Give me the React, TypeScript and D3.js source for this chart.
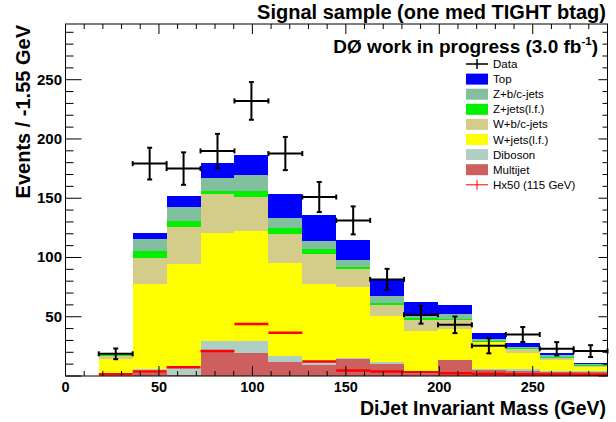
import React from 'react';
import * as d3 from 'd3';

// ---- data ----
const binEdges = [17.8, 35.95, 54.1, 72.25, 90.4, 108.55, 126.7, 144.85, 163.0, 181.15, 199.3, 217.45, 235.6, 253.75, 271.9, 290];
const multijet = [0.3, 2.5, 0.8, 21, 19.3, 11.7, 8.9, 14.5, 10.3, 2, 13.1, 5.2, 4.6, 3.5, 3];
const diboson = [0.7, 3.5, 5.7, 8.2, 10.1, 4.8, 2.8, 0.8, 1.4, 2, 0.7, 0.8, 0.9, 1.0, 0.8];
const wjetsLF = [13, 71.9, 87.7, 91.7, 93.2, 78.8, 66.2, 59.7, 38.6, 33.6, 26.1, 22.3, 13.8, 9.4, 3.6];
const wbc = [3, 21.9, 31.5, 32.4, 28.4, 24.8, 25.3, 15.5, 9.2, 9.8, 7, 0.5, 3.2, 1.6, 1.1];
const zjetsLF = [0.5, 5.6, 5.1, 2.5, 4.8, 4.8, 3.6, 1.4, 2, 1.4, 1.4, 0.6, 0.8, 0.7, 0.7];
const zbc = [1, 10.5, 11.8, 11.6, 13.5, 8.7, 7.1, 6.2, 5.9, 1.7, 4.2, 1.4, 1.1, 1.1, 0.8];
const top = [1, 4.7, 9, 12.6, 17.2, 20.3, 21.7, 16.9, 14.6, 11.9, 7, 5.7, 3.6, 2.3, 1.1];
const dataCounts = [18.7, 179.2, 175, 189.9, 232.1, 187.7, 151, 131.3, 81.5, 51.7, 43.2, 25.5, 35, 23, 21];
const dataErrors = [4.5, 13.4, 13.7, 14.4, 15.9, 14, 12.7, 11.8, 8.9, 7.5, 7, 6.4, 6.3, 5.6, 5];
const higgsX50 = [1.5, 3.8, 7.4, 21, 43.8, 36.5, 12.2, 4.6, 3.8, 3.2, 2.4, 2, 1.5, 1.2, 1];

const xTickLabels = [0, 50, 100, 150, 200, 250];
const yTickLabels = [50, 100, 150, 200, 250];

const seriesKeys = ['multijet', 'diboson', 'wjetsLF', 'wbc', 'zjetsLF', 'zbc', 'top'];
const seriesValues: Record<string, number[]> = { multijet, diboson, wjetsLF, wbc, zjetsLF, zbc, top };
const seriesColors: Record<string, string> = {
  multijet: '#cd5f5f',
  diboson: '#afcec5',
  wjetsLF: '#ffff00',
  wbc: '#d4cd8a',
  zjetsLF: '#00f000',
  zbc: '#82bf9e',
  top: '#0000ff',
};
const legendEntries = [
  { label: 'Data', kind: 'data' },
  { label: 'Top', kind: 'top' },
  { label: 'Z+b/c-jets', kind: 'zbc' },
  { label: 'Z+jets(l.f.)', kind: 'zjetsLF' },
  { label: 'W+b/c-jets', kind: 'wbc' },
  { label: 'W+jets(l.f.)', kind: 'wjetsLF' },
  { label: 'Diboson', kind: 'diboson' },
  { label: 'Multijet', kind: 'multijet' },
  { label: 'Hx50 (115 GeV)', kind: 'higgs' },
];

const W = 616;
const H = 422;
const FONT = "'Liberation Sans', Arial, Helvetica, sans-serif";

export default function App() {
  const x = d3.scaleLinear().domain([0, 290]).range([65.5, 607.5]);
  const y = d3.scaleLinear().domain([0, 297]).range([376, 24]);

  const rows = binEdges.slice(0, -1).map((_, i) => {
    const r: Record<string, number> = {};
    seriesKeys.forEach((k) => (r[k] = seriesValues[k][i]));
    return r;
  });
  const stacked = d3.stack<Record<string, number>>().keys(seriesKeys)(rows);

  const [x0, x1] = x.range();
  const [yb, yt] = y.range();

  const xMinor = d3.range(0, 291, 10);
  const yMinor = d3.range(0, 297, 10);

  return (
    <svg width={W} height={H} style={{ position: 'absolute', left: 0, top: 0, background: '#fff' }}>
      <rect width={W} height={H} fill="#fff" />
      {/* stacked histograms */}
      {stacked.map((s) => (
        <g key={s.key}>
          {s.map((d, i) => (
            <rect
              key={i}
              x={x(binEdges[i])}
              width={x(binEdges[i + 1]) - x(binEdges[i])}
              y={y(d[1])}
              height={Math.max(0, y(d[0]) - y(d[1]))}
              fill={seriesColors[s.key]}
              shapeRendering="crispEdges"
            />
          ))}
        </g>
      ))}
      {/* Higgs x50 */}
      {higgsX50.map((v, i) => (
        <line key={i} x1={x(binEdges[i])} x2={x(binEdges[i + 1])} y1={y(v)} y2={y(v)} stroke="#ff0000" strokeWidth={2.5} />
      ))}
      {/* data points */}
      {dataCounts.map((v, i) => {
        const xl = x(binEdges[i]);
        const xr = x(binEdges[i + 1]);
        const xc = (xl + xr) / 2;
        const yc = y(v);
        const ya = y(v + dataErrors[i]);
        const yb2 = y(v - dataErrors[i]);
        return (
          <g key={i} stroke="#000" strokeWidth={2}>
            <line x1={xl} x2={xr} y1={yc} y2={yc} />
            <line x1={xc} x2={xc} y1={ya} y2={yb2} />
            <line x1={xl} x2={xl} y1={yc - 2.5} y2={yc + 2.5} />
            <line x1={xr} x2={xr} y1={yc - 2.5} y2={yc + 2.5} />
            <line x1={xc - 2.5} x2={xc + 2.5} y1={ya} y2={ya} />
            <line x1={xc - 2.5} x2={xc + 2.5} y1={yb2} y2={yb2} />
          </g>
        );
      })}
      {/* frame */}
      <rect x={x0} y={yt} width={x1 - x0} height={yb - yt} fill="none" stroke="#000" strokeWidth={1} />
      {/* x ticks */}
      {xMinor.map((t) => {
        const major = t % 50 === 0;
        const L = major ? 10 : 5;
        return (
          <g key={t} stroke="#000" strokeWidth={1}>
            <line x1={x(t)} x2={x(t)} y1={yb} y2={yb - L} />
            <line x1={x(t)} x2={x(t)} y1={yt} y2={yt + L} />
          </g>
        );
      })}
      {/* y ticks */}
      {yMinor.map((t) => {
        const major = t % 50 === 0;
        return (
          <g key={t} stroke="#000" strokeWidth={1}>
            <line x1={x0} x2={x0 + (major ? 16 : 8)} y1={y(t)} y2={y(t)} />
            <line x1={x1} x2={x1 - (major ? 9 : 5)} y1={y(t)} y2={y(t)} />
          </g>
        );
      })}
      {/* tick labels */}
      {xTickLabels.map((t) => (
        <text key={t} x={x(t)} y={392} textAnchor="middle" fontFamily={FONT} fontWeight="bold" fontSize={14.5}>
          {t}
        </text>
      ))}
      {yTickLabels.map((t) => (
        <text key={t} x={62} y={y(t) + 5} textAnchor="end" fontFamily={FONT} fontWeight="bold" fontSize={15}>
          {t}
        </text>
      ))}
      {/* titles */}
      <text x={606} y={19} textAnchor="end" fontFamily={FONT} fontWeight="bold" fontSize={20}>
        Signal sample (one med TIGHT btag)
      </text>
      <text x={598} y={53} textAnchor="end" fontFamily={FONT} fontWeight="bold" fontSize={19}>
        DØ work in progress (3.0 fb<tspan fontSize={11.5} dy={-8}>-1</tspan><tspan dy={8}>)</tspan>
      </text>
      <text x={606} y={415} textAnchor="end" fontFamily={FONT} fontWeight="bold" fontSize={19.5}>
        DiJet Invariant Mass (GeV)
      </text>
      <text transform="translate(30,25) rotate(-90)" textAnchor="end" fontFamily={FONT} fontWeight="bold" fontSize={20}>
        Events / -1.55 GeV
      </text>
      {/* legend */}
      {legendEntries.map((e, i) => {
        const cy = 64 + i * 15.1;
        const bx0 = 466;
        const bx1 = 488;
        let marker;
        if (e.kind === 'data') {
          marker = (
            <g stroke="#000" strokeWidth={1.5}>
              <line x1={bx0} x2={bx1} y1={cy} y2={cy} />
              <line x1={(bx0 + bx1) / 2} x2={(bx0 + bx1) / 2} y1={cy - 5} y2={cy + 5} />
            </g>
          );
        } else if (e.kind === 'higgs') {
          marker = (
            <g stroke="#ff0000" strokeWidth={1}>
              <line x1={bx0} x2={bx1} y1={cy} y2={cy} />
              <line x1={(bx0 + bx1) / 2} x2={(bx0 + bx1) / 2} y1={cy - 5} y2={cy + 5} />
            </g>
          );
        } else {
          marker = <rect x={bx0} y={cy - 5.5} width={bx1 - bx0} height={11} fill={seriesColors[e.kind]} />;
        }
        return (
          <g key={e.label}>
            {marker}
            <text x={493} y={cy + 4} fontFamily={FONT} fontSize={11.5}>
              {e.label}
            </text>
          </g>
        );
      })}
    </svg>
  );
}
